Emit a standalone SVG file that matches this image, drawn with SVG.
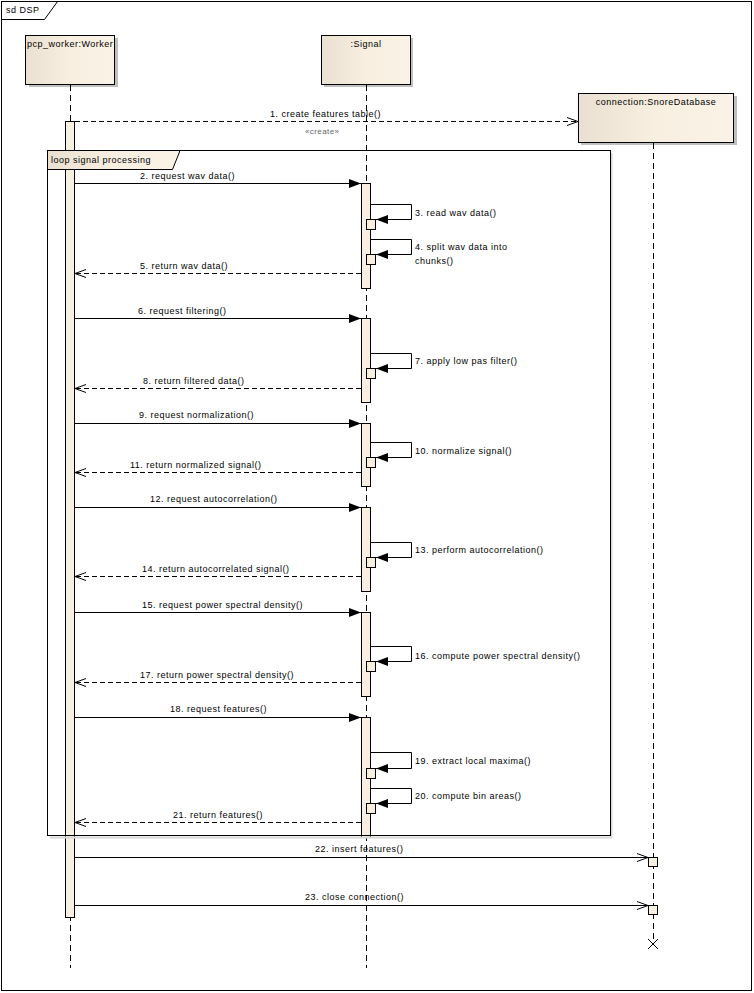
<svg xmlns="http://www.w3.org/2000/svg" width="754" height="993" viewBox="0 0 754 993">
<style>
text{font-family:"Liberation Sans",Arial,sans-serif;font-size:9px;letter-spacing:0.5px;fill:#000}
.ln{stroke:#000;stroke-width:1;fill:none}
.life{stroke:#000;stroke-width:1;stroke-dasharray:6,4;fill:none}
.ret{stroke:#000;stroke-width:1;stroke-dasharray:5,3;fill:none}
.act{fill:#f8efe1;stroke:#000;stroke-width:1}
.head{fill:url(#g);stroke:#000;stroke-width:1}
.sh{fill:#c0c0c0}
.call{marker-end:url(#fa)}
.open{marker-end:url(#oa)}
.mid{text-anchor:middle}
</style>
<defs>
<linearGradient id="g" x1="0" y1="0" x2="1" y2="0">
<stop offset="0" stop-color="#e9e0d1"/>
<stop offset="0.5" stop-color="#f8efe1"/>
<stop offset="1" stop-color="#faf2e6"/>
</linearGradient>
<marker id="fa" markerUnits="userSpaceOnUse" markerWidth="14" markerHeight="10" refX="12" refY="4.5" orient="auto">
<path d="M0,0 L12,4.5 L0,9 z" fill="#000"/>
</marker>
<marker id="oa" markerUnits="userSpaceOnUse" markerWidth="14" markerHeight="10" refX="12" refY="4.5" orient="auto">
<path d="M1,0.5 L12,4.5 L1,8.5" fill="none" stroke="#000" stroke-width="1"/>
</marker>
</defs>
<rect x="0" y="0" width="754" height="993" fill="#fff"/>
<g id="frame">
<rect x="1.5" y="1.5" width="750" height="989" fill="none" stroke="#000"/>
<path d="M1.5,19.5 H44.5 L57.5,1.5" class="ln"/>
<text x="6" y="13">sd DSP</text>
</g>
<g id="worker">
<rect class="sh" x="29" y="38" width="89" height="49"/>
<rect class="head" x="25.5" y="35.5" width="89" height="49"/>
<text x="27" y="47">pcp_worker:Worker</text>
<line class="life" x1="70.5" y1="85" x2="70.5" y2="968"/>
<rect class="act" x="65.5" y="121.5" width="9" height="796"/>
</g>
<g id="signal">
<rect class="sh" x="324" y="38" width="89" height="49"/>
<rect class="head" x="321.5" y="35.5" width="89" height="49"/>
<text class="mid" x="366" y="47">:Signal</text>
<line class="life" x1="366.5" y1="85" x2="366.5" y2="968"/>
<rect class="act" x="361.5" y="183.5" width="9" height="105"/>
<rect class="act" x="361.5" y="318.5" width="9" height="84"/>
<rect class="act" x="361.5" y="423.5" width="9" height="63"/>
<rect class="act" x="361.5" y="507.5" width="9" height="84"/>
<rect class="act" x="361.5" y="612.5" width="9" height="84"/>
<rect class="act" x="361.5" y="717.5" width="9" height="120"/>
<rect class="act" x="366.5" y="219.5" width="9" height="10"/>
<rect class="act" x="366.5" y="254.5" width="9" height="10"/>
<rect class="act" x="366.5" y="368.5" width="9" height="10"/>
<rect class="act" x="366.5" y="457.5" width="9" height="10"/>
<rect class="act" x="366.5" y="557.5" width="9" height="10"/>
<rect class="act" x="366.5" y="661.5" width="9" height="10"/>
<rect class="act" x="366.5" y="768.5" width="9" height="10"/>
<rect class="act" x="366.5" y="803.5" width="9" height="10"/>
</g>
<g id="database">
<rect class="sh" x="581" y="96" width="156" height="49"/>
<rect class="head" x="578.5" y="93.5" width="155" height="49"/>
<text class="mid" x="656" y="105">connection:SnoreDatabase</text>
<line class="life" x1="653.5" y1="143" x2="653.5" y2="943"/>
<rect class="act" x="648.5" y="857.5" width="9" height="9"/>
<rect class="act" x="648.5" y="905.5" width="9" height="9"/>
<path class="ln" d="M648,939 L658,949 M658,939 L648,949"/>
</g>
<g id="loop">
<path d="M611.5,153 V837.5 H50" fill="none" stroke="#d8d8d8" stroke-width="2"/>
<rect x="47.5" y="150.5" width="563" height="685" fill="none" stroke="#000"/>
<path d="M47.5,150.5 H179.5 L179.5,152 L172.5,169.5 H47.5 z" fill="url(#g)" stroke="#000"/>
<text x="51" y="163">loop signal processing</text>
</g>
<g id="connectors">
<line class="ret open" x1="75" y1="121.5" x2="578" y2="121.5"/>
<text x="270" y="117">1. create features table()</text>
<text x="305" y="134" style="font-size:8px;fill:#666;letter-spacing:0.4px">«create»</text>

<line class="ln call" x1="75" y1="183.5" x2="361" y2="183.5"/>
<text x="140" y="179">2. request wav data()</text>
<path class="ln call" d="M371,204.5 H411.5 V219.5 H376"/>
<text x="415" y="216">3. read wav data()</text>
<path class="ln call" d="M371,239.5 H411.5 V254.5 H376"/>
<text x="415" y="250">4. split wav data into</text>
<text x="415" y="264">chunks()</text>
<line class="ret open" x1="361" y1="273.5" x2="75" y2="273.5"/>
<text x="140" y="269">5. return wav data()</text>

<line class="ln call" x1="75" y1="318.5" x2="361" y2="318.5"/>
<text x="138" y="314">6. request filtering()</text>
<path class="ln call" d="M371,353.5 H411.5 V368.5 H376"/>
<text x="415" y="364">7. apply low pas filter()</text>
<line class="ret open" x1="361" y1="388.5" x2="75" y2="388.5"/>
<text x="143" y="384">8. return filtered data()</text>

<line class="ln call" x1="75" y1="423.5" x2="361" y2="423.5"/>
<text x="139" y="418">9. request normalization()</text>
<path class="ln call" d="M371,442.5 H411.5 V457.5 H376"/>
<text x="415" y="454">10. normalize signal()</text>
<line class="ret open" x1="361" y1="472.5" x2="75" y2="472.5"/>
<text x="130" y="468">11. return normalized signal()</text>

<line class="ln call" x1="75" y1="507.5" x2="361" y2="507.5"/>
<text x="150" y="502">12. request autocorrelation()</text>
<path class="ln call" d="M371,542.5 H411.5 V557.5 H376"/>
<text x="415" y="553">13. perform autocorrelation()</text>
<line class="ret open" x1="361" y1="576.5" x2="75" y2="576.5"/>
<text x="142" y="572">14. return autocorrelated signal()</text>

<line class="ln call" x1="75" y1="612.5" x2="361" y2="612.5"/>
<text x="142" y="608">15. request power spectral density()</text>
<path class="ln call" d="M371,646.5 H411.5 V661.5 H376"/>
<text x="415" y="659">16. compute power spectral density()</text>
<line class="ret open" x1="361" y1="682.5" x2="75" y2="682.5"/>
<text x="140" y="678">17. return power spectral density()</text>

<line class="ln call" x1="75" y1="717.5" x2="361" y2="717.5"/>
<text x="170" y="712">18. request features()</text>
<path class="ln call" d="M371,752.5 H411.5 V768.5 H376"/>
<text x="415" y="764">19. extract local maxima()</text>
<path class="ln call" d="M371,788.5 H411.5 V803.5 H376"/>
<text x="415" y="799">20. compute bin areas()</text>
<line class="ret open" x1="361" y1="822.5" x2="75" y2="822.5"/>
<text x="173" y="818">21. return features()</text>

<line class="ln open" x1="75" y1="857.5" x2="648" y2="857.5"/>
<text x="315" y="852">22. insert features()</text>
<line class="ln open" x1="75" y1="905.5" x2="648" y2="905.5"/>
<text x="305" y="900">23. close connection()</text>
</g>
</svg>
